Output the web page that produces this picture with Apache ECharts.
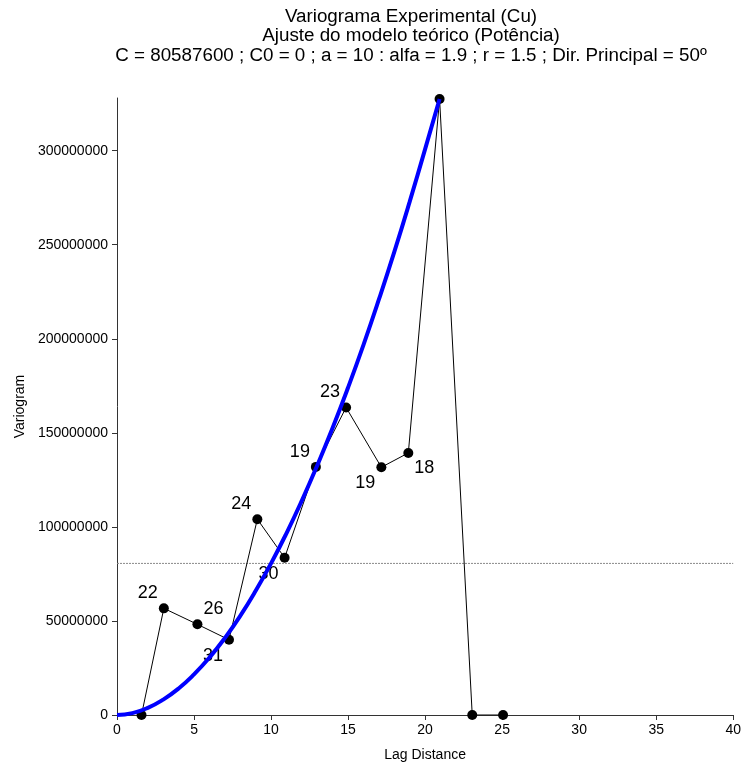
<!DOCTYPE html>
<html>
<head>
<meta charset="utf-8">
<script src="https://cdn.jsdelivr.net/npm/echarts@6/dist/echarts.min.js"></script>
<style>
  html, body { margin: 0; padding: 0; background: #fff; }
  #chart { width: 744px; height: 767px; }
</style>
</head>
<body>
<div id="chart"></div>
<script>
// Experimental variogram (Cu): lag distance, semivariance and number of pairs per lag
const lagDistance = [1.59, 3.04, 5.22, 7.27, 9.11, 10.88, 12.91, 14.87, 17.16, 18.91, 20.94, 23.06, 25.06];
const variogram = [0, 56700000, 48200000, 40000000, 104100000, 83600000, 131900000, 163500000, 131700000, 139300000, 327500000, 0, 0];
const pairCounts = [null, 22, 26, 31, 24, 30, 19, 23, 19, 18, null, null, null];

// Fitted power model (blue curve), sampled along the lag axis
const modelLag = [0, 1, 2, 3, 4, 5, 6, 7, 8, 9, 10, 11, 12, 13, 14, 15, 16, 17, 18, 19, 20, 20.94];
const modelGamma = [0, 1000000, 3800000, 8200000, 14100000, 21600000, 30500000, 40900000, 52700000, 66000000,
  80600000, 96600000, 114000000, 132700000, 152700000, 174100000, 196800000, 220900000, 246200000,
  272900000, 300800000, 327500000];

// Sill value C
const sill = 80587600;

// Axis ticks
const xTickValues = [0, 5, 10, 15, 20, 25, 30, 35, 40];
const yTickValues = [0, 50000000, 100000000, 150000000, 200000000, 250000000, 300000000];
const yAxisTop = 328000000;

const titleLines = [
  'Variograma Experimental (Cu)',
  'Ajuste do modelo teórico (Potência)',
  'C = 80587600 ; C0 = 0 ; a = 10 : alfa = 1.9 ; r = 1.5 ; Dir. Principal = 50º'
];

// where each pair-count label sits around its point
const labelSide = ['', 'ul', 'ur', 'dl', 'ul', 'dl', 'ul', 'ul', 'dl', 'dr', '', '', ''];
const sideOffset = { ul: [-16, -15], ur: [16, -15], dl: [-16, 16], dr: [16, 15] };

const FONT = "'Liberation Sans', Arial, sans-serif";

const expData = lagDistance.map((x, i) => {
  const item = { value: [x, variogram[i]] };
  if (pairCounts[i] != null) {
    item.label = {
      show: true,
      formatter: String(pairCounts[i]),
      position: 'inside',
      offset: sideOffset[labelSide[i]]
    };
  }
  return item;
});

const chart = echarts.init(document.getElementById('chart'), null, { renderer: 'canvas' });

chart.setOption({
  animation: false,
  backgroundColor: '#ffffff',
  title: {
    text: titleLines.join('\n'),
    left: 406,
    top: 2,
    textAlign: 'center',
    textStyle: {
      fontFamily: FONT,
      fontSize: 18.8,
      fontWeight: 'normal',
      color: '#000',
      lineHeight: 19.5
    }
  },
  grid: { left: 117, right: 9, top: 98, bottom: 50 },
  xAxis: {
    type: 'value',
    min: xTickValues[0],
    max: xTickValues[xTickValues.length - 1],
    interval: xTickValues[1] - xTickValues[0],
    name: 'Lag Distance',
    nameLocation: 'middle',
    nameGap: 33,
    nameTextStyle: { fontFamily: FONT, fontSize: 14, color: '#000' },
    axisLine: { show: true, onZero: false, lineStyle: { color: '#333', width: 1 } },
    axisTick: { show: true, length: 5, lineStyle: { color: '#333' } },
    axisLabel: { fontFamily: FONT, fontSize: 14, color: '#000', margin: 8 },
    splitLine: { show: false }
  },
  yAxis: {
    type: 'value',
    min: yTickValues[0],
    max: yAxisTop,
    name: 'Variogram',
    nameLocation: 'middle',
    nameGap: 86,
    nameTextStyle: { fontFamily: FONT, fontSize: 14, color: '#000' },
    axisLine: { show: true, lineStyle: { color: '#333', width: 1 } },
    axisTick: { show: true, length: 5, lineStyle: { color: '#333' }, customValues: yTickValues },
    axisLabel: {
      fontFamily: FONT, fontSize: 14, color: '#000', margin: 9,
      customValues: yTickValues,
      formatter: v => String(v)
    },
    splitLine: { show: false }
  },
  series: [
    {
      name: 'sill',
      type: 'line',
      data: [[xTickValues[0], sill], [xTickValues[xTickValues.length - 1], sill]],
      symbol: 'none',
      lineStyle: { color: '#8a8a8a', width: 1, type: [2, 1] },
      z: 1,
      silent: true
    },
    {
      name: 'experimental',
      type: 'line',
      data: expData,
      symbol: 'circle',
      symbolSize: 10,
      itemStyle: { color: '#000' },
      lineStyle: { color: '#000', width: 1 },
      label: {
        fontFamily: FONT,
        fontSize: 18,
        color: '#000'
      },
      z: 2
    },
    {
      name: 'model',
      type: 'line',
      data: modelLag.map((x, i) => [x, modelGamma[i]]),
      smooth: true,
      symbol: 'none',
      lineStyle: { color: '#0000ff', width: 4 },
      z: 3
    }
  ]
});
</script>
</body>
</html>
